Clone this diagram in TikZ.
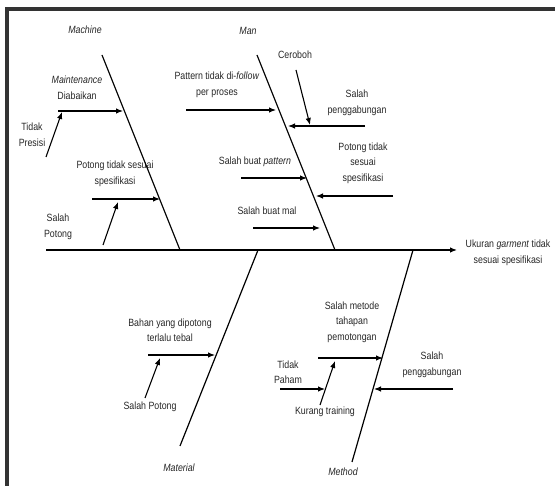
\documentclass[tikz,border=0pt]{standalone}
\usepackage{fontspec}
\setmainfont{Liberation Sans}[FakeStretch=0.84]
\usetikzlibrary{arrows.meta}
\usetikzlibrary{positioning}

\begin{document}
\begin{tikzpicture}[x=1pt,y=-1pt,-,>={Latex[length=7pt,width=5.5pt]},shorten >=0pt,
                    bone/.style={line width=1.2pt},
                    sub/.style={->,line width=1.1pt},
                    cause/.style={font=\fontsize{10.5}{15.5}\selectfont,align=center,inner sep=0pt,text=black!85},
                    head/.style={cause,font=\fontsize{10.5}{15.5}\selectfont\itshape}]

  \useasboundingbox (0,0) rectangle (555,486);
  \draw[line width=3.5pt,black!80] (7,486) -- (7,9) -- (555,9);

  % spine and effect
  \coordinate (tail) at (46,250);
  \coordinate (tip) at (457,250);
  \node[cause] (effect) at (508,253) {Ukuran \textit{garment} tidak\\sesuai spesifikasi};

  % bones
  \coordinate (mach1) at (102,55);  \coordinate (mach2) at (180,250);
  \coordinate (man1) at (257,55);   \coordinate (man2) at (335,250);
  \coordinate (mat1) at (258,250);  \coordinate (mat2) at (180,446);
  \coordinate (meth1) at (413,250); \coordinate (meth2) at (352,462);

  \node[head] (machine) at (85,30) {Machine};
  \node[head] (man) at (248,31) {Man};
  \node[head] (material) at (179,468) {Material};
  \node[head] (method) at (343,472) {Method};

  % causes
  \node[cause] (mt1) at (77,88) {\textit{Maintenance}\\Diabaikan};
  \node[cause] (mt2) at (32,135) {Tidak\\Presisi};
  \node[cause] (mt3) at (115,174) {Potong tidak sesuai\\spesifikasi};
  \node[cause] (mt4) at (58,227) {Salah\\Potong};

  \node[cause] (mn1) at (217,85) {Pattern tidak di-\textit{follow}\\per proses};
  \node[cause] (mn2) at (295,55) {Ceroboh};
  \node[cause] (mn3) at (357,103) {Salah\\penggabungan};
  \node[cause] (mn4) at (255,162) {Salah buat \textit{pattern}};
  \node[cause] (mn5) at (363,163) {Potong tidak\\sesuai\\spesifikasi};
  \node[cause] (mn6) at (267,211) {Salah buat mal};

  \node[cause] (ma1) at (170,330) {Bahan yang dipotong\\terlalu tebal};
  \node[cause] (ma2) at (150,407) {Salah Potong};

  \node[cause] (me1) at (352,322) {Salah metode\\tahapan\\pemotongan};
  \node[cause] (me2) at (288,372) {Tidak\\Paham};
  \node[cause] (me3) at (325,412) {Kurang training};
  \node[cause] (me4) at (432,365) {Salah\\penggabungan};

  % arrow ends
  \coordinate (a1) at (58,111);   \coordinate (b1) at (123,111);
  \coordinate (a2) at (46,157);   \coordinate (b2) at (62,112);
  \coordinate (a3) at (92,199);   \coordinate (b3) at (160,199);
  \coordinate (a4) at (103,245);  \coordinate (b4) at (118,202);
  \coordinate (a5) at (186,110);  \coordinate (b5) at (276,110);
  \coordinate (a6) at (296,70);   \coordinate (b6) at (310,125);
  \coordinate (a7) at (365,126);  \coordinate (b7) at (288,126);
  \coordinate (a8) at (241,178);  \coordinate (b8) at (307,178);
  \coordinate (a9) at (393,196);  \coordinate (b9) at (316,196);
  \coordinate (a10) at (253,228); \coordinate (b10) at (320,228);
  \coordinate (a11) at (148,355); \coordinate (b11) at (215,355);
  \coordinate (a12) at (145,398); \coordinate (b12) at (160,358);
  \coordinate (a13) at (318,358); \coordinate (b13) at (383,358);
  \coordinate (a14) at (280,389); \coordinate (b14) at (325,389);
  \coordinate (a15) at (320,405); \coordinate (b15) at (335,361);
  \coordinate (a16) at (453,389); \coordinate (b16) at (374,389);

  \path[bone]
    (tail) edge[->] (tip)
    (mach1) edge (mach2)
    (man1) edge (man2)
    (mat1) edge (mat2)
    (meth1) edge (meth2)
;
  \path[sub]
    (a1) edge (b1)   (a2) edge (b2)   (a3) edge (b3)   (a4) edge (b4)
    (a5) edge (b5)   (a6) edge (b6)   (a7) edge (b7)   (a8) edge (b8)
    (a9) edge (b9)   (a10) edge (b10) (a11) edge (b11) (a12) edge (b12)
    (a13) edge (b13) (a14) edge (b14) (a15) edge (b15) (a16) edge (b16)
;
\end{tikzpicture}
\end{document}
